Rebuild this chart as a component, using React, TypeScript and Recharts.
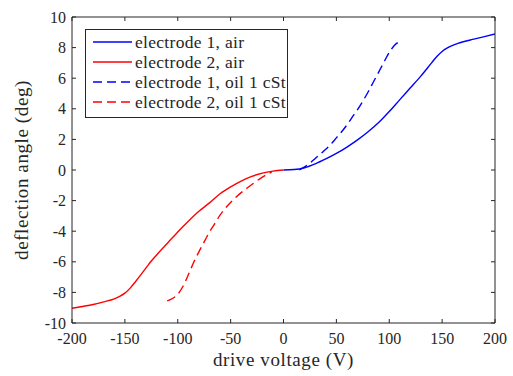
import React from 'react';
import { LineChart, Line, XAxis, YAxis } from 'recharts';

// electrode 1, air
const voltE1Air = [0, 10, 20, 30, 40, 50, 60, 70, 80, 90, 100, 110, 120, 130, 140, 145, 150, 155, 160, 165, 170, 180, 190, 200];
const degE1Air = [0, 0.03, 0.15, 0.4, 0.72, 1.08, 1.5, 1.97, 2.5, 3.1, 3.82, 4.6, 5.37, 6.15, 7.0, 7.42, 7.75, 7.98, 8.15, 8.28, 8.38, 8.55, 8.72, 8.89];

// electrode 2, air
const voltE2Air = [-200, -190, -180, -170, -160, -155, -150, -145, -140, -135, -130, -125, -120, -110, -100, -90, -80, -70, -60, -50, -40, -30, -20, -10, 0];
const degE2Air = [-9.04, -8.92, -8.79, -8.62, -8.42, -8.26, -8.05, -7.72, -7.3, -6.85, -6.4, -5.95, -5.55, -4.8, -4.05, -3.35, -2.7, -2.15, -1.55, -1.1, -0.72, -0.42, -0.2, -0.07, 0];

// electrode 1, oil 1 cSt
const voltE1Oil = [15, 20, 25, 30, 35, 40, 45, 50, 55, 60, 65, 70, 75, 80, 85, 90, 95, 100, 105, 110];
const degE1Oil = [0, 0.2, 0.45, 0.75, 1.05, 1.35, 1.7, 2.1, 2.5, 2.95, 3.45, 3.95, 4.5, 5.1, 5.75, 6.4, 7.05, 7.68, 8.15, 8.42];

// electrode 2, oil 1 cSt
const voltE2Oil = [-110, -105, -100, -95, -90, -85, -80, -75, -70, -65, -60, -55, -50, -45, -40, -35, -30, -25, -20, -15, -11];
const degE2Oil = [-8.55, -8.4, -8.12, -7.6, -6.85, -6.05, -5.35, -4.7, -4.05, -3.5, -2.95, -2.5, -2.12, -1.78, -1.48, -1.22, -0.95, -0.7, -0.47, -0.27, -0.12];

const xTicks = [-200, -150, -100, -50, 0, 50, 100, 150, 200];
const yTicks = [-10, -8, -6, -4, -2, 0, 2, 4, 6, 8, 10];

const seriesNames = ['electrode 1, air', 'electrode 2, air', 'electrode 1, oil 1 cSt', 'electrode 2, oil 1 cSt'];

const toPoints = (xs: number[], ys: number[]) => xs.map((v, i) => ({ v, d: ys[i] }));

const series = [
  { name: seriesNames[0], data: toPoints(voltE1Air, degE1Air), color: '#0000ff', dash: undefined },
  { name: seriesNames[1], data: toPoints(voltE2Air, degE2Air), color: '#ff0000', dash: undefined },
  { name: seriesNames[2], data: toPoints(voltE1Oil, degE1Oil), color: '#0000ff', dash: '9 5' },
  { name: seriesNames[3], data: toPoints(voltE2Oil, degE2Oil), color: '#ff0000', dash: '9 5' },
];

const font = '"Liberation Serif", serif';
const ink = '#262626';
const tickStyle = { fill: ink, fontSize: 16, fontFamily: font };
const labelStyle = { letterSpacing: '0.6px' };

function LegendBox() {
  return (
    <div
      style={{
        position: 'absolute',
        left: 85,
        top: 29,
        width: 203,
        height: 89,
        boxSizing: 'border-box',
        border: `1px solid ${ink}`,
        background: '#fff',
        padding: '2px 0 0 7px',
        fontFamily: font,
        fontSize: 17.5,
        letterSpacing: '0.3px',
        color: ink,
        lineHeight: '20px',
        whiteSpace: 'nowrap',
      }}
    >
      {series.map((s) => (
        <div key={s.name} style={{ display: 'flex', alignItems: 'center', height: 20 }}>
          <svg width={39} height={10} style={{ marginRight: 3, flex: 'none' }}>
            <line x1={0} y1={5} x2={39} y2={5} stroke={s.color} strokeWidth={1.4} strokeDasharray={s.dash} />
          </svg>
          <span>{s.name}</span>
        </div>
      ))}
    </div>
  );
}

export default function App() {
  return (
    <div style={{ position: 'relative', width: 513, height: 376 }}>
      <style>{'body{margin:0;background:#fff}'}</style>
      <LineChart width={513} height={376} margin={{ top: 16, right: 17, bottom: 0, left: 0 }}>
        <XAxis
          xAxisId="b"
          dataKey="v"
          type="number"
          domain={[-200, 200]}
          ticks={xTicks}
          allowDataOverflow
          stroke={ink}
          tick={tickStyle}
          tickSize={-4}
          tickMargin={14}
          height={53}
          label={{ value: 'drive voltage (V)', position: 'insideBottom', offset: 10, fill: ink, fontSize: 19, fontFamily: font, style: labelStyle }}
        />
        <XAxis
          xAxisId="t"
          orientation="top"
          dataKey="v"
          type="number"
          domain={[-200, 200]}
          ticks={xTicks}
          allowDataOverflow
          stroke={ink}
          tickSize={-4}
          tickFormatter={() => ''}
          height={1}
        />
        <YAxis
          yAxisId="l"
          dataKey="d"
          type="number"
          domain={[-10, 10]}
          ticks={yTicks}
          allowDataOverflow
          stroke={ink}
          tick={tickStyle}
          tickSize={-4}
          tickMargin={10}
          width={72}
          label={{ value: 'deflection angle (deg)', angle: -90, position: 'insideLeft', offset: 21, fill: ink, fontSize: 19, fontFamily: font, style: { ...labelStyle, textAnchor: 'middle' } }}
        />
        <YAxis
          yAxisId="r"
          orientation="right"
          dataKey="d"
          type="number"
          domain={[-10, 10]}
          ticks={yTicks}
          allowDataOverflow
          stroke={ink}
          tickSize={-4}
          tickFormatter={() => ''}
          width={1}
        />
        {/* invisible series so the top and right box axes get drawn */}
        <Line
          xAxisId="t"
          yAxisId="r"
          data={series[0].data}
          dataKey="d"
          stroke="none"
          dot={false}
          activeDot={false}
          isAnimationActive={false}
        />
        {series.map((s) => (
          <Line
            key={s.name}
            xAxisId="b"
            yAxisId="l"
            data={s.data}
            dataKey="d"
            name={s.name}
            type="monotone"
            stroke={s.color}
            strokeWidth={1.4}
            strokeDasharray={s.dash}
            dot={false}
            activeDot={false}
            isAnimationActive={false}
          />
        ))}
      </LineChart>
      <LegendBox />
    </div>
  );
}
